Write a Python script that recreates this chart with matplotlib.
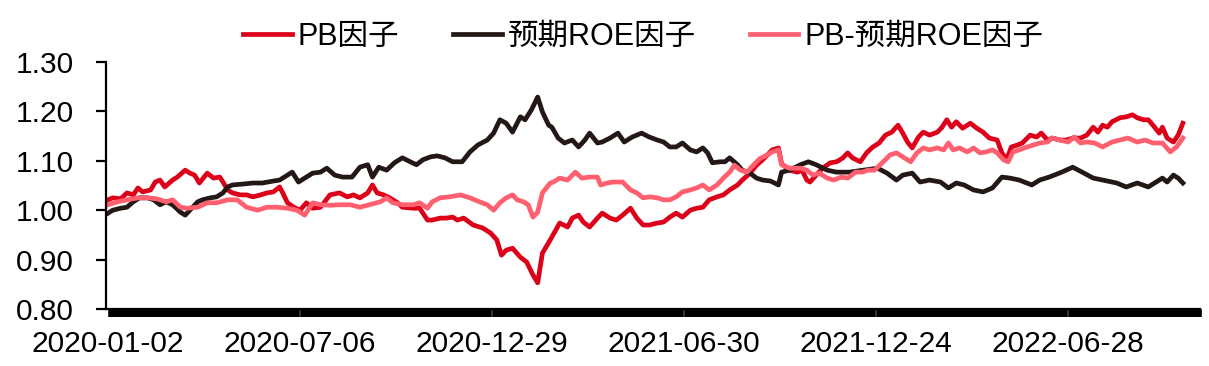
import numpy as np
import matplotlib
matplotlib.use('Agg')
import matplotlib.pyplot as plt

plt.rcParams['font.family'] = ['Liberation Sans', 'Noto Sans CJK SC', 'DejaVu Sans']

# 交易日序号 (0 = 2020-01-02) 与净值
pb_x = [0, 3, 8, 12, 16, 19, 22, 27, 30, 33, 36, 41, 44, 49, 52, 55, 58, 63, 67, 71, 73, 76, 79, 84, 88,
        92, 97, 101, 105, 109, 111, 114, 118, 122, 126, 130, 135, 141, 147, 152, 156, 160, 165, 168, 171,
        175, 179, 184, 187, 194, 198, 203, 206, 211, 215, 219, 222, 226, 232, 238, 243, 247, 250, 253,
        257, 262, 266, 270, 273, 276, 281, 287, 292, 295, 299, 302, 306, 311, 314, 319, 323, 327, 332,
        336, 340, 344, 349, 353, 357, 361, 365, 370, 374, 378, 382, 387, 391, 395, 400, 403, 408, 412,
        416, 419, 422, 426, 428, 433, 438, 441, 444, 446, 450, 454, 459, 463, 467, 470, 473, 478, 482,
        486, 490, 494, 498, 502, 505, 508, 511, 515, 518, 522, 527, 530, 533, 536, 539, 543, 548, 552,
        556, 560, 565, 568, 571, 574, 578, 581, 586, 590, 593, 597, 600, 605, 609, 613, 618, 622, 626,
        629, 632, 635, 638, 643, 647, 651, 654, 658, 661, 664, 668, 670, 673, 677, 680, 683]
pb_y = [1.021, 1.025, 1.023, 1.035, 1.031, 1.045, 1.037, 1.041, 1.057, 1.061, 1.047, 1.061, 1.067, 1.081,
        1.075, 1.071, 1.055, 1.075, 1.065, 1.067, 1.057, 1.041, 1.035, 1.031, 1.031, 1.027, 1.031, 1.035,
        1.037, 1.047, 1.035, 1.015, 1.006, 1.000, 1.015, 1.004, 1.006, 1.031, 1.035, 1.027, 1.031, 1.025,
        1.035, 1.051, 1.035, 1.031, 1.025, 1.015, 1.006, 1.004, 1.004, 0.980, 0.980, 0.984, 0.984, 0.986,
        0.980, 0.984, 0.970, 0.964, 0.954, 0.940, 0.909, 0.919, 0.923, 0.905, 0.895, 0.869, 0.853, 0.913,
        0.940, 0.974, 0.966, 0.984, 0.990, 0.976, 0.966, 0.984, 0.994, 0.984, 0.980, 0.990, 1.004, 0.984,
        0.970, 0.970, 0.974, 0.976, 0.986, 0.994, 0.986, 1.000, 1.004, 1.006, 1.021, 1.027, 1.031, 1.041,
        1.051, 1.061, 1.075, 1.091, 1.102, 1.112, 1.122, 1.126, 1.094, 1.081, 1.077, 1.081, 1.061, 1.057,
        1.071, 1.085, 1.096, 1.098, 1.106, 1.116, 1.106, 1.098, 1.116, 1.128, 1.136, 1.152, 1.158, 1.172,
        1.156, 1.138, 1.126, 1.148, 1.158, 1.152, 1.158, 1.168, 1.183, 1.168, 1.179, 1.166, 1.176, 1.166,
        1.158, 1.146, 1.142, 1.116, 1.102, 1.128, 1.132, 1.136, 1.152, 1.148, 1.156, 1.142, 1.146, 1.142,
        1.142, 1.146, 1.146, 1.152, 1.168, 1.158, 1.172, 1.168, 1.179, 1.187, 1.189, 1.193, 1.187, 1.183,
        1.183, 1.172, 1.156, 1.168, 1.146, 1.138, 1.152, 1.176]

roe_x = [0, 3, 8, 12, 16, 20, 25, 29, 33, 37, 41, 46, 49, 52, 57, 60, 65, 69, 73, 76, 79, 86, 92, 98, 105,
         109, 114, 117, 121, 126, 130, 135, 139, 144, 149, 155, 160, 165, 168, 172, 177, 182, 187, 192,
         196, 200, 205, 209, 214, 219, 225, 230, 235, 241, 245, 249, 253, 257, 262, 265, 269, 273, 276,
         280, 282, 286, 290, 295, 299, 303, 306, 311, 314, 319, 324, 328, 333, 339, 344, 349, 353, 357,
         361, 365, 370, 374, 378, 381, 384, 389, 392, 395, 400, 403, 408, 412, 416, 421, 426, 428, 433,
         440, 445, 450, 457, 463, 471, 480, 489, 495, 501, 505, 511, 516, 522, 529, 534, 539, 544, 550,
         556, 562, 568, 573, 579, 587, 592, 598, 606, 613, 619, 626, 632, 641, 647, 654, 661, 666, 670,
         673, 677, 680, 683]
roe_y = [0.994, 1.000, 1.004, 1.006, 1.017, 1.025, 1.025, 1.021, 1.011, 1.017, 1.011, 0.996, 0.990, 1.000,
         1.017, 1.021, 1.025, 1.027, 1.035, 1.047, 1.051, 1.053, 1.055, 1.055, 1.059, 1.061, 1.071, 1.077,
         1.057, 1.067, 1.075, 1.077, 1.085, 1.071, 1.067, 1.067, 1.087, 1.092, 1.067, 1.087, 1.081, 1.096,
         1.106, 1.098, 1.092, 1.102, 1.108, 1.110, 1.106, 1.098, 1.098, 1.118, 1.132, 1.142, 1.156, 1.183,
         1.176, 1.158, 1.189, 1.183, 1.203, 1.229, 1.199, 1.172, 1.168, 1.146, 1.136, 1.142, 1.128, 1.142,
         1.156, 1.136, 1.138, 1.146, 1.156, 1.138, 1.148, 1.156, 1.148, 1.142, 1.138, 1.128, 1.128, 1.136,
         1.122, 1.118, 1.126, 1.116, 1.096, 1.098, 1.098, 1.106, 1.092, 1.081, 1.075, 1.065, 1.061, 1.059,
         1.051, 1.077, 1.081, 1.092, 1.098, 1.092, 1.081, 1.077, 1.077, 1.081, 1.085, 1.075, 1.061, 1.071,
         1.075, 1.057, 1.061, 1.057, 1.045, 1.055, 1.051, 1.041, 1.037, 1.045, 1.067, 1.065, 1.061, 1.051,
         1.061, 1.067, 1.077, 1.087, 1.077, 1.065, 1.061, 1.055, 1.047, 1.055, 1.047, 1.057, 1.065, 1.057,
         1.071, 1.065, 1.055]

mix_x = [0, 6, 12, 19, 25, 31, 37, 41, 46, 50, 57, 63, 69, 76, 82, 88, 95, 101, 107, 114, 120, 125, 130,
         135, 141, 147, 154, 160, 166, 173, 177, 181, 187, 194, 198, 203, 206, 211, 217, 224, 230, 236,
         241, 245, 249, 253, 257, 260, 264, 267, 270, 273, 276, 281, 283, 287, 292, 297, 301, 306, 311,
         313, 317, 321, 327, 332, 336, 340, 344, 349, 353, 357, 361, 365, 370, 374, 378, 382, 387, 391,
         395, 398, 402, 406, 410, 414, 419, 422, 426, 428, 433, 440, 444, 448, 452, 457, 461, 466, 470,
         475, 479, 483, 487, 492, 497, 501, 505, 510, 514, 518, 522, 527, 531, 534, 537, 541, 546, 550,
         554, 558, 562, 565, 569, 572, 575, 579, 584, 588, 592, 597, 600, 605, 610, 614, 618, 622, 627,
         632, 638, 643, 648, 654, 659, 664, 670, 675, 679, 683]
mix_y = [1.011, 1.017, 1.021, 1.025, 1.025, 1.023, 1.017, 1.021, 1.006, 1.004, 1.006, 1.015, 1.015, 1.021,
         1.021, 1.006, 1.000, 1.006, 1.006, 1.004, 1.000, 0.990, 1.015, 1.011, 1.010, 1.011, 1.011, 1.006,
         1.011, 1.017, 1.025, 1.015, 1.011, 1.011, 1.015, 1.004, 1.017, 1.025, 1.027, 1.031, 1.025, 1.017,
         1.011, 1.000, 1.015, 1.025, 1.031, 1.021, 1.017, 1.011, 0.986, 0.996, 1.035, 1.055, 1.057, 1.065,
         1.061, 1.077, 1.065, 1.067, 1.067, 1.051, 1.055, 1.057, 1.057, 1.041, 1.035, 1.025, 1.027, 1.025,
         1.021, 1.021, 1.027, 1.037, 1.041, 1.045, 1.051, 1.041, 1.051, 1.065, 1.077, 1.091, 1.081, 1.077,
         1.091, 1.104, 1.112, 1.118, 1.122, 1.092, 1.085, 1.085, 1.081, 1.071, 1.075, 1.065, 1.061, 1.067,
         1.065, 1.077, 1.077, 1.081, 1.081, 1.096, 1.112, 1.116, 1.108, 1.098, 1.116, 1.126, 1.122, 1.126,
         1.122, 1.136, 1.122, 1.126, 1.118, 1.126, 1.116, 1.118, 1.122, 1.116, 1.102, 1.098, 1.118, 1.122,
         1.128, 1.132, 1.136, 1.138, 1.146, 1.142, 1.138, 1.148, 1.136, 1.138, 1.136, 1.128, 1.138, 1.142,
         1.146, 1.138, 1.142, 1.136, 1.136, 1.118, 1.128, 1.146]

tick_pos = [0, 122, 244, 366, 488, 610]
tick_labels = ['2020-01-02', '2020-07-06', '2020-12-29', '2021-06-30', '2021-12-24', '2022-06-28']
n_days = 695

fig = plt.figure(figsize=(12.09, 3.66), dpi=100)
ax = fig.add_axes([0.0877, 0.1557, 0.905, 0.675])

ax.plot(pb_x, pb_y, color='#DC0018', lw=3.4, label='PB因子')
ax.plot(roe_x, roe_y, color='#231815', lw=3.4, label='预期ROE因子')
ax.plot(mix_x, mix_y, color='#FF5F6E', lw=3.4, label='PB-预期ROE因子')

ax.set_xlim(-1.3, n_days - 1)
ax.set_ylim(0.80, 1.30)
ax.set_yticks(np.arange(0.80, 1.31, 0.10))
ax.set_yticklabels(['%.2f' % v for v in np.arange(0.80, 1.31, 0.10)])
ax.set_xticks(tick_pos)
ax.set_xticklabels(tick_labels)
ax.set_xticks(np.arange(0, n_days), minor=True)

for s in ['top', 'right']:
    ax.spines[s].set_visible(False)
ax.spines['left'].set_linewidth(1.6)
ax.spines['bottom'].set_linewidth(1.6)

ax.tick_params(axis='y', direction='out', length=7, width=1.6, pad=16, labelsize=21.5)
ax.tick_params(axis='x', which='major', length=0, pad=15, labelsize=21.5)
ax.tick_params(axis='x', which='minor', direction='out', length=6, width=2.6)

fig.legend(loc='center', bbox_to_anchor=(0.532, 0.9), ncol=3, frameon=False, fontsize=22,
           handlelength=1.6, handletextpad=0.2, columnspacing=1.75)

fig.savefig('out.png', dpi=100)
